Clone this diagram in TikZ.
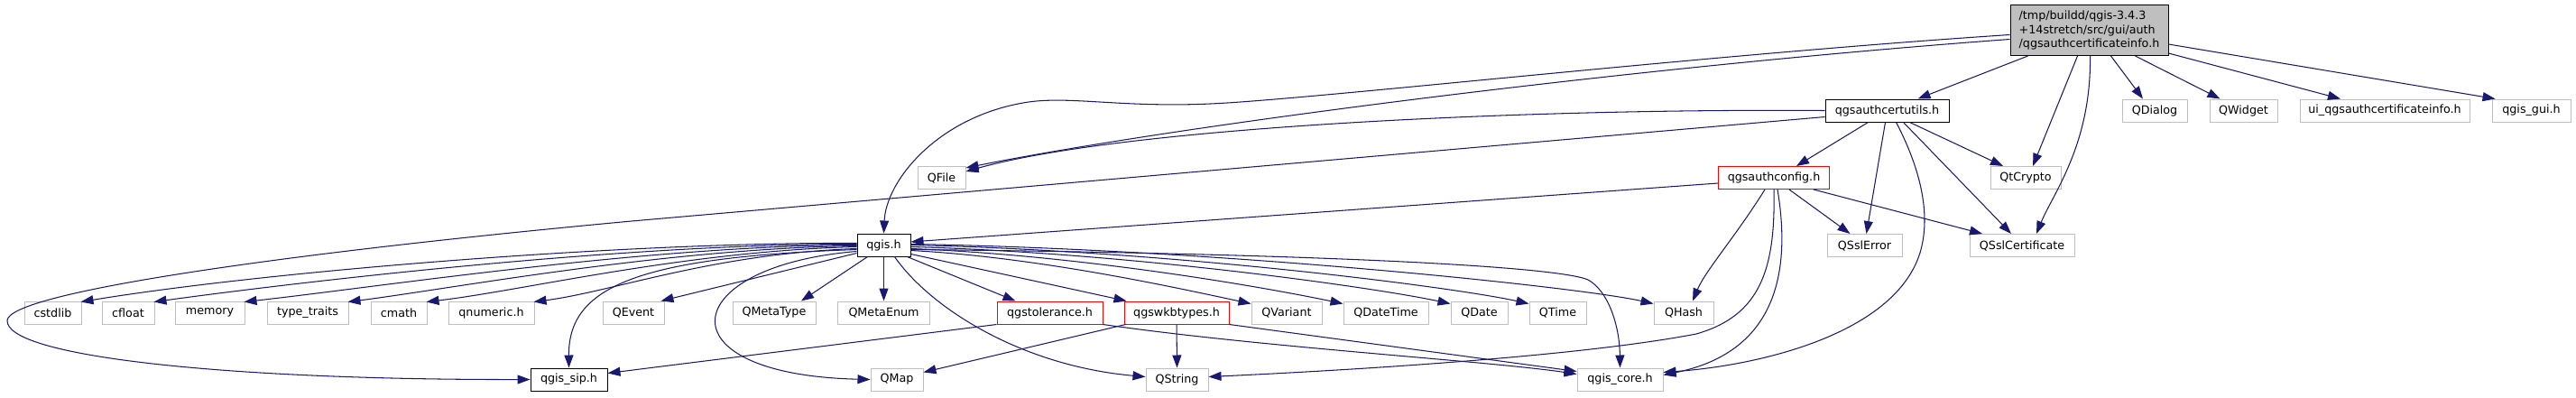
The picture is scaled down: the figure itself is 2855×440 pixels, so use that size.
\documentclass[tikz,border=0pt]{standalone}
\usepackage{fontspec}
\setmainfont{DejaVu Sans}
\usetikzlibrary{arrows.meta}
\definecolor{edgec}{HTML}{191970}
\definecolor{grayb}{HTML}{BFBFBF}
\definecolor{redb}{HTML}{FF0000}
\begin{document}
\begin{tikzpicture}[x=1pt,y=-1pt,
 gnode/.style={draw=grayb, line width=1pt, minimum height=25pt, inner sep=0pt, fill=white, font=\fontsize{12.7pt}{15.5pt}\selectfont},
 bnode/.style={gnode, draw=black},
 rnode/.style={gnode, draw=redb},
 dep/.style={draw=edgec, line width=1.05pt, -{Triangle[length=14pt,width=10pt]}}
]
\useasboundingbox (0,0) rectangle (2855,440);

% nodes
\node[gnode, draw=black, fill=grayb, minimum width=175pt, minimum height=56pt, align=left] (main) at (2315.5,33.5) {/tmp/buildd/qgis-3.4.3\\+14stretch/src/gui/auth\\/qgsauthcertificateinfo.h};
\node[bnode, minimum width=137pt] (certutils) at (2091.5,122.5) {qgsauthcertutils.h};
\node[gnode, minimum width=72pt] (QDialog) at (2388,122.5) {QDialog};
\node[gnode, minimum width=75pt] (QWidget) at (2486.5,122.5) {QWidget};
\node[gnode, minimum width=188pt] (ui) at (2643,122.5) {ui\_qgsauthcertificateinfo.h};
\node[gnode, minimum width=87pt] (gui) at (2805.5,122.5) {qgis\_gui.h};
\node[gnode, minimum width=53pt] (QFile) at (1043.5,197) {QFile};
\node[rnode, minimum width=123pt] (authconfig) at (1966,197) {qgsauthconfig.h};
\node[gnode, minimum width=78pt] (QtCrypto) at (2245,197) {QtCrypto};
\node[bnode, minimum width=59pt] (qgis) at (979.5,271.5) {qgis.h};
\node[gnode, minimum width=83pt] (QSslError) at (2066.5,272) {QSslError};
\node[gnode, minimum width=116pt] (QSslCert) at (2241,272) {QSslCertificate};
% row 5
\node[gnode, minimum width=63pt] (cstdlib) at (58.5,346.5) {cstdlib};
\node[gnode, minimum width=58pt] (cfloat) at (142,346.5) {cfloat};
\node[gnode, minimum width=77pt] (memory) at (232.5,346.5) {memory};
\node[gnode, minimum width=90pt] (typetraits) at (341,346.5) {type\_traits};
\node[gnode, minimum width=62pt] (cmath) at (442,346.5) {cmath};
\node[gnode, minimum width=95pt] (qnumeric) at (544.5,346.5) {qnumeric.h};
\node[gnode, minimum width=68pt] (QEvent) at (702,346.5) {QEvent};
\node[gnode, minimum width=92pt] (QMetaType) at (858,346.5) {QMetaType};
\node[gnode, minimum width=102pt] (QMetaEnum) at (979.5,346.5) {QMetaEnum};
\node[rnode, minimum width=117pt] (qgstol) at (1163.5,346.5) {qgstolerance.h};
\node[rnode, minimum width=116pt] (qgswkb) at (1304,346.5) {qgswkbtypes.h};
\node[gnode, minimum width=78pt] (QVariant) at (1426,346.5) {QVariant};
\node[gnode, minimum width=94pt] (QDateTime) at (1536,346.5) {QDateTime};
\node[gnode, minimum width=63pt] (QDate) at (1639.5,346.5) {QDate};
\node[gnode, minimum width=63pt] (QTime) at (1726.5,346.5) {QTime};
\node[gnode, minimum width=66pt] (QHash) at (1866,346.5) {QHash};
% row 6
\node[bnode, minimum width=85pt] (qgissip) at (630.5,420.5) {qgis\_sip.h};
\node[gnode, minimum width=58pt] (QMap) at (994,420.5) {QMap};
\node[gnode, minimum width=69pt] (QString) at (1304.5,420.5) {QString};
\node[gnode, minimum width=95pt] (qgiscore) at (1795.5,420.5) {qgis\_core.h};

% main edges
\draw[dep] ([xshift=-68pt]main.south) -- ([xshift=34pt]certutils.north);
\draw[dep] ([xshift=-13pt]main.south) -- ([xshift=8pt]QtCrypto.north);
\draw[dep] ([xshift=1pt]main.south) .. controls (2318,160) and (2275,215) .. ([xshift=16pt]QSslCert.north);
\draw[dep] ([xshift=24pt]main.south) -- ([xshift=-13pt]QDialog.north);
\draw[dep] ([xshift=51pt]main.south) -- ([xshift=-26pt]QWidget.north);
\draw[dep] ([yshift=3pt]main.south east) -- ([xshift=-49pt]ui.north);
\draw[dep] ([yshift=-15.5pt]main.east) -- ([xshift=4pt]gui.north west);
\draw[dep] ([yshift=-10pt]main.west) .. controls (1800,75) and (1300,140) .. ([yshift=-2pt]QFile.north east);
\draw[dep] ([yshift=-5pt]main.west) .. controls (1900,60) and (1500,105) .. (1360,114)
  .. controls (1250,121) and (1190,106) .. (1140,113)
  .. controls (1040,128) and (982,200) .. (qgis.north);

% certutils edges
\draw[dep] ([xshift=-21pt]certutils.south) -- ([xshift=25pt]authconfig.north);
\draw[dep] ([xshift=25pt]certutils.south) -- ([xshift=-25pt]QtCrypto.north);
\draw[dep] ([xshift=-2pt]certutils.south) -- ([xshift=2pt]QSslError.north);
\draw[dep] ([xshift=18pt]certutils.south) -- ([xshift=-12pt]QSslCert.north);
\draw[dep] ([xshift=10pt]certutils.south) .. controls (2130,190) and (2140,240) .. (2128,280)
  .. controls (2100,370) and (1950,405) .. ([yshift=8pt]qgiscore.east);
\draw[dep] (certutils.west) .. controls (1700,120) and (1250,140) .. ([yshift=-6pt]QFile.north east);
\draw[dep] ([yshift=-7pt]certutils.west) -- (700,245)
  .. controls (300,282) and (10,325) .. (8,355)
  .. controls (6,395) and (250,421) .. (qgissip.west);

% authconfig edges
\draw[dep] ([yshift=-6pt]authconfig.west) -- ([yshift=3.5pt]qgis.east);
\draw[dep] ([xshift=17pt]authconfig.south) -- ([xshift=-16pt]QSslError.north);
\draw[dep] ([xshift=44pt]authconfig.south) -- ([xshift=-44pt]QSslCert.north);
\draw[dep] ([xshift=-10pt]authconfig.south) .. controls (1925,260) and (1890,300) .. ([xshift=10pt]QHash.north);
\draw[dep] (authconfig.south) .. controls (1968,300) and (1950,350) .. (1880,370)
  .. controls (1750,395) and (1500,410) .. ([yshift=3pt]QString.east);
\draw[dep] ([xshift=4pt]authconfig.south) .. controls (1985,300) and (1970,390) .. ([yshift=5pt]qgiscore.east);

% qgis edges (left fan)
\draw[dep] (qgis.south) -- (QMetaEnum.north);
\draw[dep] ([yshift=2pt]qgis.west) .. controls (700,268) and (300,300) .. ([xshift=-1pt,yshift=-1pt]cstdlib.north east);
\draw[dep] ([yshift=1pt]qgis.west) .. controls (700,270) and (350,310) .. ([xshift=-1pt,yshift=-1pt]cfloat.north east);
\draw[dep] (qgis.west) .. controls (720,272) and (420,318) .. ([xshift=-1pt,yshift=-1pt]memory.north east);
\draw[dep] ([yshift=-1pt]qgis.west) .. controls (740,275) and (500,320) .. ([xshift=-1pt,yshift=-1pt]typetraits.north east);
\draw[dep] ([yshift=-2pt]qgis.west) .. controls (760,278) and (580,322) .. ([xshift=-1pt,yshift=-1pt]cmath.north east);
\draw[dep] ([yshift=-4pt]qgis.west) .. controls (790,281) and (680,323) .. ([xshift=-1pt,yshift=-1pt]qnumeric.north east);
\draw[dep] ([yshift=-9pt]qgis.west) -- ([xshift=-4pt]QEvent.north east);
\draw[dep] ([xshift=-18pt]qgis.south) -- ([xshift=30pt]QMetaType.north);
\draw[dep] ([yshift=-5pt]qgis.west) .. controls (700,285) and (630,320) .. (qgissip.north);
\draw[dep] ([yshift=-7pt]qgis.west) .. controls (750,295) and (730,415) .. (QMap.west);
% qgis edges (right fan)
\draw[dep] ([xshift=12pt]qgis.south) .. controls (1030,340) and (1130,405) .. ([yshift=3pt]QString.west);
\draw[dep] ([xshift=-4pt]qgis.south east) -- ([xshift=-38pt]qgstol.north);
\draw[dep] ([yshift=3pt]qgis.south east) -- ([xshift=3pt]qgswkb.north west);
\draw[dep] ([yshift=-6pt]qgis.east) .. controls (1150,285) and (1300,318) .. ([yshift=-3pt]QVariant.north west);
\draw[dep] ([yshift=-4pt]qgis.east) .. controls (1200,283) and (1400,318) .. ([yshift=-3pt]QDateTime.north west);
\draw[dep] ([yshift=-2pt]qgis.east) .. controls (1250,280) and (1520,318) .. ([yshift=-3pt]QDate.north west);
\draw[dep] (qgis.east) .. controls (1300,278) and (1610,318) .. ([yshift=-3pt]QTime.north west);
\draw[dep] ([yshift=1pt]qgis.east) .. controls (1350,276) and (1750,318) .. ([yshift=-3pt]QHash.north west);
\draw[dep] ([yshift=-5pt]qgis.east) .. controls (1400,280) and (1720,293) .. (1760,310)
  .. controls (1782,322) and (1795,360) .. (qgiscore.north);

% qgstolerance / qgswkbtypes edges
\draw[dep] (qgstol.south west) -- ([yshift=7pt]qgissip.east);
\draw[dep] (qgstol.south east) .. controls (1400,385) and (1650,400) .. ([yshift=6pt]qgiscore.west);
\draw[dep] ([xshift=2pt]qgswkb.south west) -- ([yshift=8pt]QMap.east);
\draw[dep] (qgswkb.south) -- (QString.north);
\draw[dep] (qgswkb.south east) -- ([yshift=9pt]qgiscore.west);
\end{tikzpicture}
\end{document}
